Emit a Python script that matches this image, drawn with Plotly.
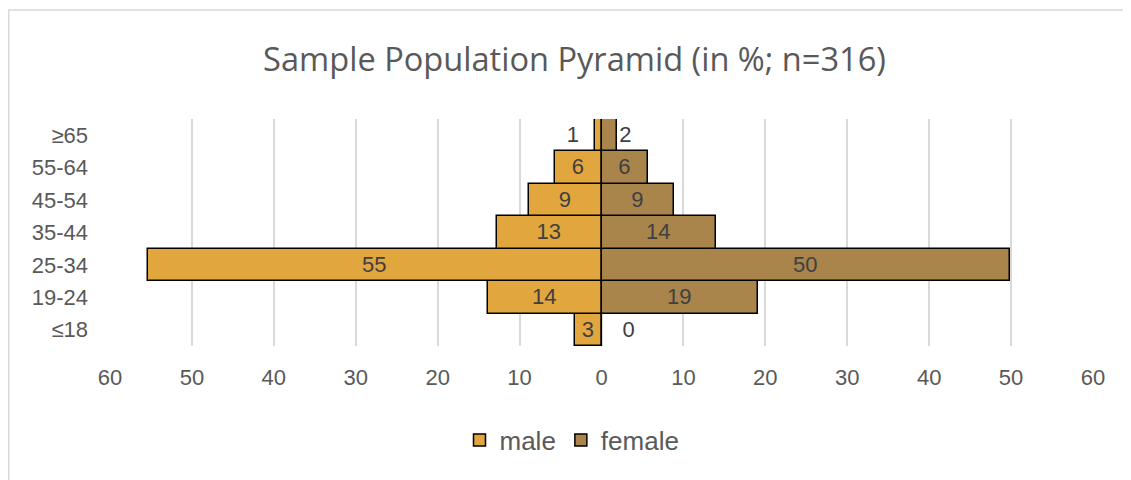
import plotly.graph_objects as go

categories = ["≤18", "19-24", "25-34", "35-44", "45-54", "55-64", "≥65"]
male = [3.2, 13.9, 55.4, 12.7, 8.9, 5.7, 0.8]
female = [0.0, 19.1, 49.9, 14.0, 8.9, 5.7, 1.9]
tick_values = [-60, -50, -40, -30, -20, -10, 0, 10, 20, 30, 40, 50, 60]
tick_labels = [str(abs(v)) for v in tick_values]

male_color = "#E2A63E"
female_color = "#A9844B"
text_color = "#595959"
label_color = "#404040"
FONT = "Liberation Sans, Arial, sans-serif"

# figure sits at 8px body offset; sizes compensate
W, H = 1123, 472
L, R, T, B = 102, 38, 111, 134
PW, PH = W - L - R, H - T - B
NB = "\u00a0"


def positions(vals):
    return ["outside" if v == 0 else "auto" for v in vals]


male_text = [str(round(v)) + (NB * 2 if v < 1.5 else "") for v in male]
female_text = [(NB * 3 if v == 0 else "") + str(round(v)) for v in female]

fig = go.Figure()
fig.add_trace(go.Bar(
    y=categories, x=[-v for v in male], orientation="h", name="male",
    marker=dict(color=male_color, line=dict(color="black", width=1.5)),
    text=male_text, textposition=positions(male),
    insidetextanchor="middle",
    insidetextfont=dict(color=label_color, size=22, family=FONT),
    outsidetextfont=dict(color=label_color, size=22, family=FONT),
    cliponaxis=False, hoverinfo="skip",
))
fig.add_trace(go.Bar(
    y=categories, x=female, orientation="h", name="female",
    marker=dict(color=female_color, line=dict(color="black", width=1.5)),
    text=female_text, textposition=positions(female),
    insidetextanchor="middle",
    insidetextfont=dict(color=label_color, size=22, family=FONT),
    outsidetextfont=dict(color=label_color, size=22, family=FONT),
    cliponaxis=False, hoverinfo="skip",
))

fig.update_layout(
    width=W, height=H,
    barmode="overlay", bargap=0,
    plot_bgcolor="white", paper_bgcolor="white",
    margin=dict(l=L, r=R, t=T, b=B, autoexpand=False),
    font=dict(family=FONT, color=text_color, size=22),
    title=dict(text="Sample Population Pyramid (in %; n=316)", x=(574.5 - 8) / W, xanchor="center",
               y=1 - 52 / H, yanchor="middle",
               font=dict(family="Open Sans, sans-serif", size=32.6, color=text_color)),
    xaxis=dict(range=[-60, 60], tickvals=tick_values, ticktext=tick_labels,
               showgrid=True, gridcolor="#D9D9D9", gridwidth=1.5,
               zeroline=False, showline=False, ticks="", fixedrange=True,
               tickfont=dict(size=22, color=text_color), ticklabelstandoff=16),
    yaxis=dict(categoryorder="array", categoryarray=categories,
               showgrid=False, zeroline=False, showline=False, ticks="",
               tickfont=dict(size=22, color=text_color), ticklabelstandoff=21),
    legend=dict(orientation="h", x=(572 - 110) / PW, xanchor="center", y=-94 / PH, yanchor="middle",
                font=dict(size=26, color=text_color), traceorder="normal"),
    showlegend=True,
    shapes=[dict(type="rect", xref="paper", yref="paper",
                 x0=(0.75 - L) / PW, x1=1.2, y0=-1.2, y1=1 + (T - 2) / PH,
                 line=dict(color="#D9D9D9", width=1.5), fillcolor="rgba(0,0,0,0)",
                 layer="below")],
)

fig.write_html("out.html")
